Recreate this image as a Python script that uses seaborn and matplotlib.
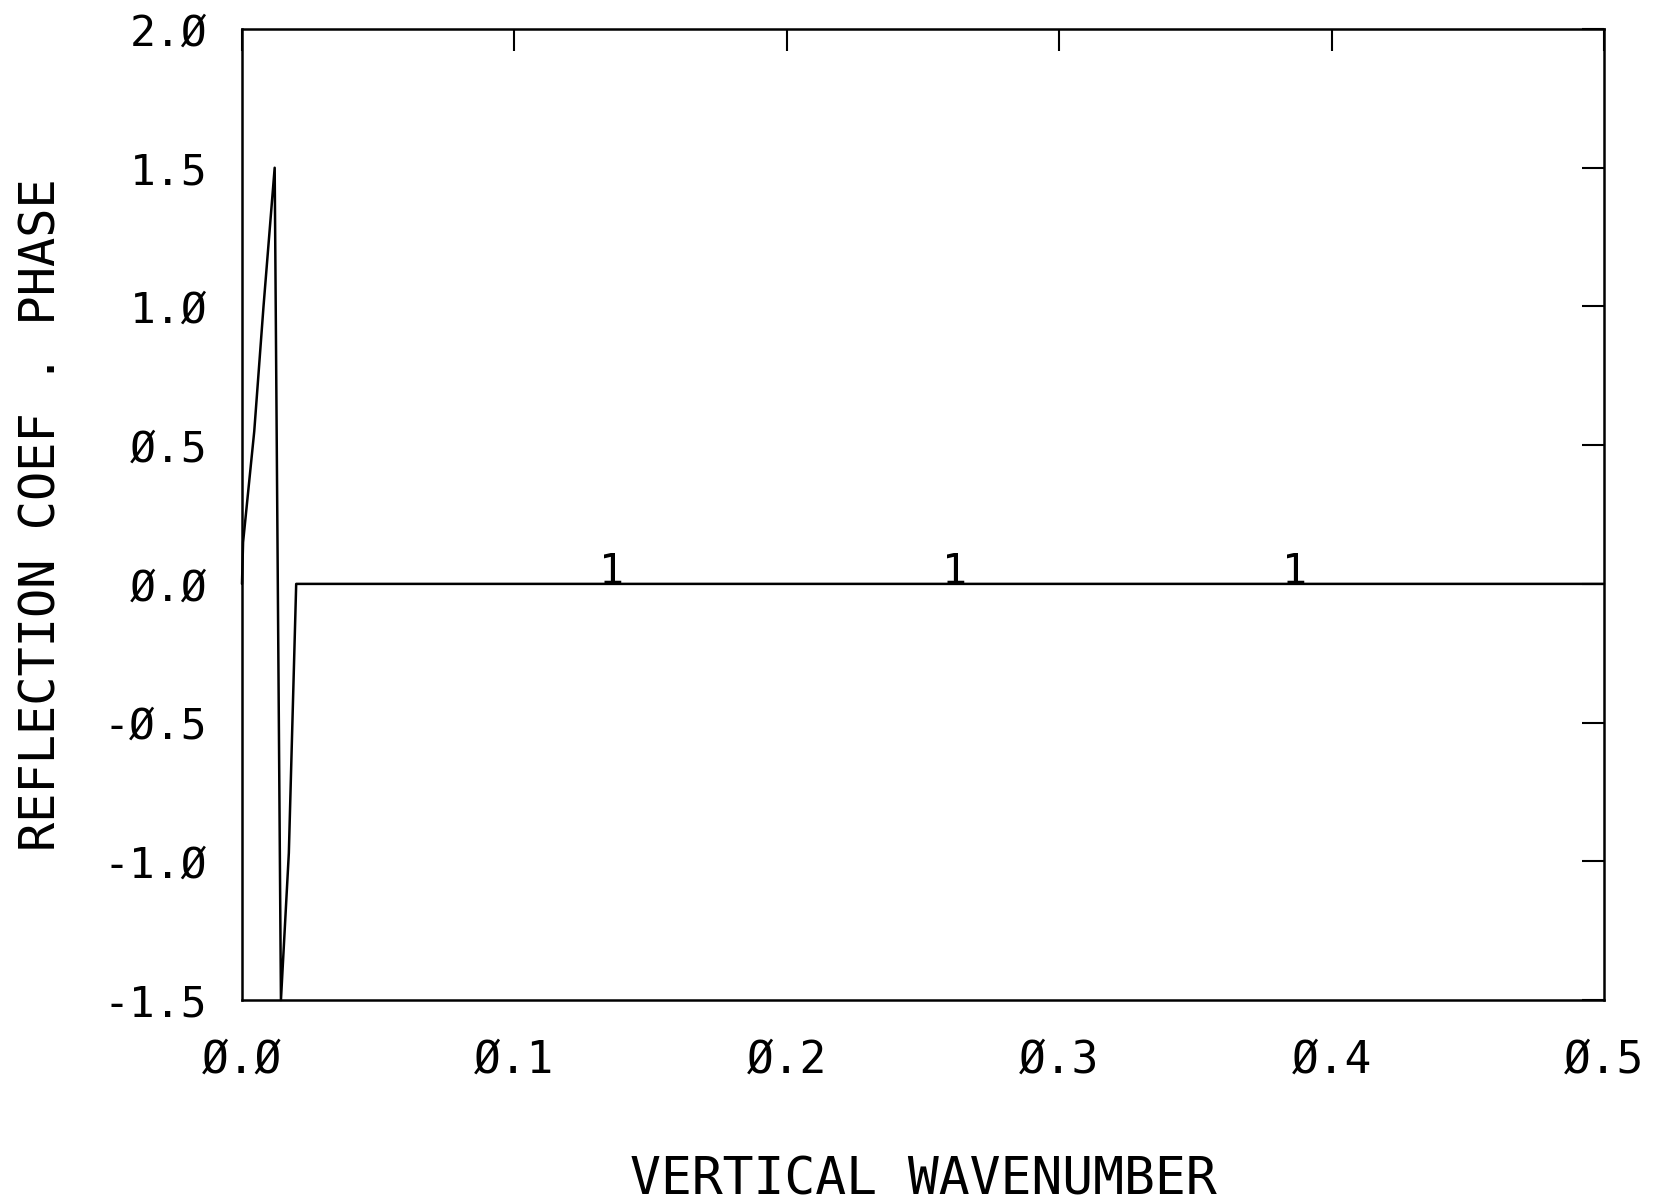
import matplotlib
matplotlib.use("Agg")
import matplotlib.pyplot as plt
import seaborn as sns
import pandas as pd

# Reflection coefficient phase versus vertical wavenumber
wavenumber = [0.0, 0.0004, 0.0045, 0.0079, 0.0120, 0.0143, 0.0172, 0.0199, 0.5]
phase = [0.0, 0.15, 0.55, 1.00, 1.50, -1.50, -0.97, 0.0, 0.0]

# Curve identifier labels sitting on the line
curve_label = "1"
curve_label_x = [0.1358, 0.2615, 0.3864]
curve_label_y = [0.0, 0.0, 0.0]

x_ticks = [0.0, 0.1, 0.2, 0.3, 0.4, 0.5]
x_tick_labels = ["Ø.Ø", "Ø.1", "Ø.2", "Ø.3", "Ø.4", "Ø.5"]
y_ticks = [-1.5, -1.0, -0.5, 0.0, 0.5, 1.0, 1.5, 2.0]
y_tick_labels = ["-1.5", "-1.Ø", "-Ø.5", "Ø.Ø", "Ø.5", "1.Ø", "1.5", "2.Ø"]

x_title = "VERTICAL WAVENUMBER"
y_title = "REFLECTION COEF . PHASE"

sns.set_style("white")
plt.rcParams["font.family"] = ["DejaVu Sans Mono", "DejaVu Sans"]

df = pd.DataFrame({"k": wavenumber, "phase": phase})

fig = plt.figure(figsize=(16.62, 12.04), dpi=100)
ax = fig.add_axes([0.1456, 0.1694, 0.8195, 0.8065])

sns.lineplot(data=df, x="k", y="phase", sort=False, color="black",
             linewidth=1.8, ax=ax, clip_on=False)

for lx, ly in zip(curve_label_x, curve_label_y):
    ax.text(lx, ly, curve_label, ha="center", va="baseline", fontsize=30,
            color="black")

ax.set_xlim(0.0, 0.5)
ax.set_ylim(-1.5, 2.0)
ax.set_xticks(x_ticks)
ax.set_xticklabels(x_tick_labels, fontsize=32)
ax.set_yticks(y_ticks)
ax.set_yticklabels(y_tick_labels, fontsize=31)

ax.tick_params(axis="both", direction="in", length=16, width=1.5,
               top=True, right=True, colors="black")
ax.tick_params(axis="x", pad=28)
ax.tick_params(axis="y", pad=25)

for sp in ax.spines.values():
    sp.set_visible(True)
    sp.set_color("black")
    sp.set_linewidth(1.8)

ax.set_xlabel(x_title, fontsize=37, color="black")
ax.xaxis.set_label_coords(0.5, -0.186)
ax.xaxis.label.set_va("center")
ax.set_ylabel(y_title, fontsize=35, color="black")
ax.yaxis.set_label_coords(-0.147, 0.5)
ax.yaxis.label.set_va("center")

fig.savefig("out.png", dpi=100, facecolor="white")
